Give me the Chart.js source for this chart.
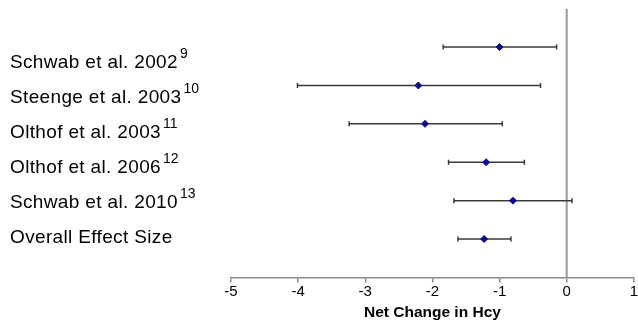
<!DOCTYPE html>
<html>
<head>
<meta charset="utf-8">
<script src="https://cdn.jsdelivr.net/npm/chart.js@4.4.1/dist/chart.umd.min.js"></script>
<style>
    html, body { margin: 0; padding: 0; background: #fff; }
    #wrap { width: 638px; height: 324px; position: relative; }
</style>
</head>
<body>
<div id="wrap"><canvas id="forestChart"></canvas></div>
<script>
// study rows, top to bottom
const studies = ['Schwab et al. 2002', 'Steenge et al. 2003', 'Olthof et al. 2003', 'Olthof et al. 2006', 'Schwab et al. 2010', 'Overall Effect Size'];
const refs = ['9', '10', '11', '12', '13', ''];
const effects = [-1.00, -2.21, -2.11, -1.20, -0.80, -1.23];
const lower = [-1.84, -4.01, -3.24, -1.76, -1.68, -1.62];
const upper = [-0.15, -0.39, -0.96, -0.63, 0.08, -0.83];
const xTicks = [-5, -4, -3, -2, -1, 0, 1];

const points = effects.map((v, i) => ({ x: v, y: i + 1 }));

// whiskers + zero line, drawn through the chart scales
const forestPlugin = {
    id: 'forest',
    beforeDatasetsDraw(chart) {
        const ctx = chart.ctx;
        const xs = chart.scales.x, ys = chart.scales.y;
        const area = chart.chartArea;
        ctx.save();
        // reference line at 0
        ctx.strokeStyle = '#9a9a9a';
        ctx.lineWidth = 2;
        ctx.beginPath();
        ctx.moveTo(xs.getPixelForValue(0), area.top);
        ctx.lineTo(xs.getPixelForValue(0), area.bottom);
        ctx.stroke();

        ctx.strokeStyle = '#3a3a3a';
        ctx.lineWidth = 1.5;
        lower.forEach((lo, i) => {
            const y = ys.getPixelForValue(i + 1);
            const x1 = xs.getPixelForValue(lo);
            const x2 = xs.getPixelForValue(upper[i]);
            ctx.beginPath();
            ctx.moveTo(x1, y); ctx.lineTo(x2, y);
            ctx.moveTo(x1, y - 2.5); ctx.lineTo(x1, y + 2.5);
            ctx.moveTo(x2, y - 2.5); ctx.lineTo(x2, y + 2.5);
            ctx.stroke();
        });
        ctx.restore();
    },
    afterDraw(chart) {
        const ctx = chart.ctx;
        ctx.save();
        ctx.fillStyle = '#000';
        ctx.textBaseline = 'alphabetic';
        studies.forEach((name, i) => {
            const base = 68 + i * 35;
            ctx.font = '19px "Liberation Sans", Arial, sans-serif';
            ctx.letterSpacing = '0.35px';
            ctx.fillText(name, 10, base);
            const w = ctx.measureText(name).width;
            if (refs[i]) {
                ctx.font = '14px "Liberation Sans", Arial, sans-serif';
                ctx.letterSpacing = '0px';
                ctx.fillText(refs[i], 10 + w + 2, base - 10);
            }
        });
        ctx.restore();
    }
};

new Chart(document.getElementById('forestChart'), {
    type: 'scatter',
    data: {
        datasets: [{
            data: points,
            pointStyle: 'rectRot',
            radius: 3.5,
            backgroundColor: '#0a0a8c',
            borderColor: '#0a0a8c',
            borderWidth: 1
        }]
    },
    plugins: [forestPlugin],
    options: {
        responsive: true,
        maintainAspectRatio: false,
        animation: false,
        layout: { autoPadding: false, padding: { left: 231, right: 3, top: 8.7, bottom: 2 } },
        plugins: { legend: { display: false }, tooltip: { enabled: false } },
        scales: {
            x: {
                type: 'linear',
                min: -5,
                max: 1,
                afterBuildTicks: scale => { scale.ticks = xTicks.map(v => ({ value: v })); },
                border: { color: '#8a8a8a', width: 1.5 },
                grid: { drawOnChartArea: false, drawTicks: true, tickLength: 5, color: '#8a8a8a', lineWidth: 1.5 },
                ticks: {
                    color: '#000',
                    padding: 0,
                    maxRotation: 0,
                    font: { size: 15, family: '"Liberation Sans", Arial, sans-serif' }
                },
                title: {
                    display: true,
                    text: 'Net Change in Hcy',
                    color: '#000',
                    padding: { top: 3, bottom: 0 },
                    font: { size: 15.5, weight: 'bold', family: '"Liberation Sans", Arial, sans-serif' }
                }
            },
            y: {
                type: 'linear',
                display: false,
                reverse: true,
                min: 0,
                max: 7
            }
        }
    }
});
</script>
</body>
</html>
